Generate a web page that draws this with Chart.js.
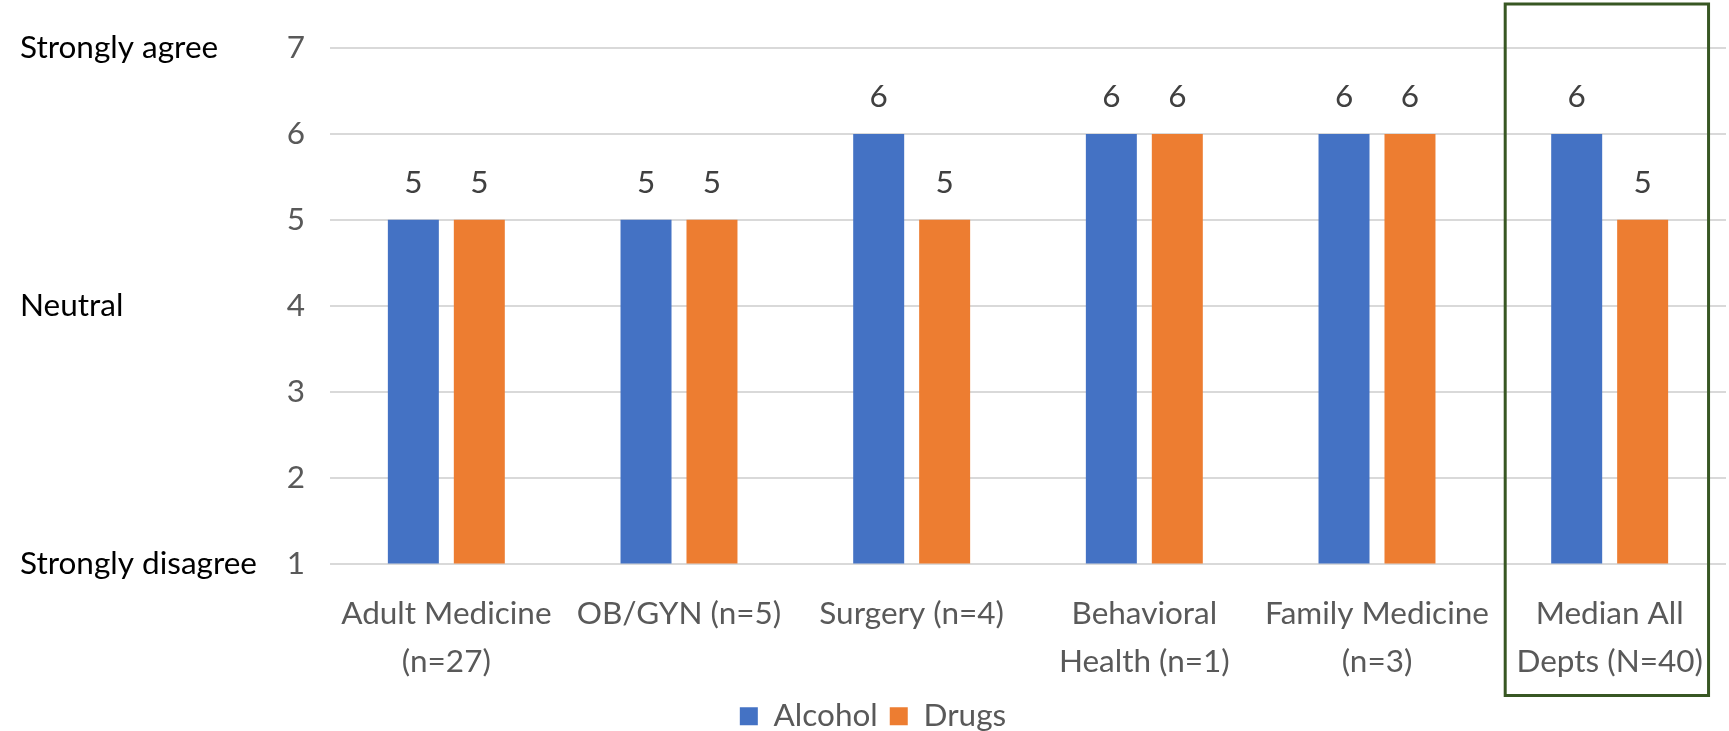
<!DOCTYPE html>
<html>
<head>
<meta charset="utf-8">
<title>Alcohol and drug screening attitudes by department</title>
<script src="https://cdn.jsdelivr.net/npm/chart.js@4.4.1/dist/chart.umd.min.js"></script>
<style>
  html, body { margin: 0; padding: 0; background: #ffffff; }
  #wrap { width: 1729px; height: 731px; position: relative; }
</style>
</head>
<body>
<div id="wrap"><canvas id="chart" width="1729" height="731"></canvas></div>
<script>
// Departments (multi-line labels), median Likert responses per substance
const departments = [
  ["Adult Medicine", "(n=27)"],
  ["OB/GYN (n=5)"],
  ["Surgery (n=4)"],
  ["Behavioral", "Health (n=1)"],
  ["Family Medicine", "(n=3)"],
  ["Median All", "Depts (N=40)"]
];
const alcohol = [5, 5, 6, 6, 6, 6];
const drugs = [5, 5, 5, 6, 6, 5];

// Likert scale: numeric ticks and the verbal anchors shown beside them
const likertMin = 1;
const likertMax = 7;
const likertAnchors = { 7: "Strongly agree", 4: "Neutral", 1: "Strongly disagree" };

// Category that gets the outline box (all-department median)
const highlightIndex = 5;

const FONT = "Lato, 'Open Sans', sans-serif";
const FONT_SIZE = 31.5;

// Numbers printed above each bar
const valueLabels = {
  id: "valueLabels",
  afterDatasetsDraw(chart) {
    const ctx = chart.ctx;
    ctx.save();
    ctx.font = FONT_SIZE + "px " + FONT;
    ctx.fillStyle = "#404040";
    ctx.textAlign = "center";
    ctx.textBaseline = "middle";
    chart.data.datasets.forEach((ds, i) => {
      chart.getDatasetMeta(i).data.forEach((bar, j) => {
        ctx.fillText(String(ds.data[j]), bar.x, bar.y - 37);
      });
    });
    ctx.restore();
  }
};

// Dark green frame around the summary category
const highlightBox = {
  id: "highlightBox",
  afterDraw(chart) {
    const xs = chart.scales.x;
    const slot = xs.width / departments.length;
    const cx = xs.getPixelForValue(highlightIndex);
    const area = chart.chartArea;
    const left = cx - 0.449 * slot;
    const right = cx + 0.425 * slot;
    const top = area.top - 44;
    const bottom = area.bottom + 132;
    const ctx = chart.ctx;
    ctx.save();
    ctx.strokeStyle = "#385723";
    ctx.lineWidth = 3;
    ctx.strokeRect(left, top, right - left, bottom - top);
    ctx.restore();
  }
};

new Chart(document.getElementById("chart"), {
  type: "bar",
  data: {
    labels: departments,
    datasets: [
      { label: "Alcohol", data: alcohol, backgroundColor: "#4472C4",
        categoryPercentage: 0.567, barPercentage: 0.773 },
      { label: "Drugs", data: drugs, backgroundColor: "#ED7D31",
        categoryPercentage: 0.567, barPercentage: 0.773 }
    ]
  },
  options: {
    responsive: false,
    animation: false,
    devicePixelRatio: 1,
    layout: { padding: { left: 20, right: 3, top: 48, bottom: -11 } },
    plugins: {
      tooltip: { enabled: false },
      legend: {
        position: "bottom",
        labels: {
          boxWidth: 18,
          boxHeight: 18,
          padding: 12,
          color: "#595959",
          font: { family: FONT, size: FONT_SIZE }
        }
      }
    },
    scales: {
      x: {
        grid: { display: false },
        border: { display: false },
        ticks: {
          color: "#595959",
          padding: 18,
          maxRotation: 0,
          autoSkip: false,
          font: { family: FONT, size: FONT_SIZE, lineHeight: 1.54 }
        },
        afterFit(scale) { scale.height = 125; }
      },
      y: {
        min: likertMin,
        max: likertMax,
        weight: 0,
        grid: { color: "#d9d9d9", lineWidth: 2, drawTicks: false },
        border: { display: false },
        ticks: {
          stepSize: 1,
          color: "#595959",
          padding: 25,
          font: { family: FONT, size: FONT_SIZE }
        },
        afterFit(scale) { scale.width = 60; }
      },
      likert: {
        type: "linear",
        position: "left",
        min: likertMin,
        max: likertMax,
        weight: 1,
        grid: { display: false },
        border: { display: false },
        ticks: {
          stepSize: 1,
          crossAlign: "far",
          color: "#000000",
          padding: 0,
          font: { family: FONT, size: FONT_SIZE },
          callback: (v) => likertAnchors[v] || ""
        },
        afterFit(scale) { scale.width = 250; }
      }
    }
  },
  plugins: [valueLabels, highlightBox]
});
</script>
</body>
</html>
